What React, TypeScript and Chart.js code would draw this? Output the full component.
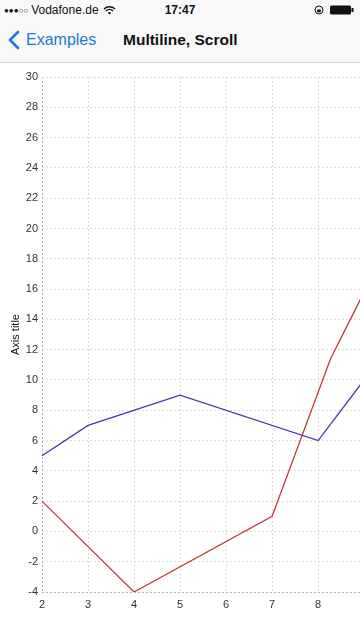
import React, { useEffect, useRef } from "react";
import { Chart, registerables } from "chart.js";

Chart.register(...registerables);

const blueX = [2, 3, 5, 8, 9];
const blueY = [5, 7, 9, 6, 10];
const redX = [2, 4, 7, 8.27, 9];
const redY = [2, -4, 1, 11.4, 15.8];
const xTicks = [2, 3, 4, 5, 6, 7, 8];
const yMin = -4;
const yMax = 30;
const yStep = 2;
const xMin = 2;
const xMax = 8.91;
const yTitle = "Axis title";

const FONT = "'Liberation Sans', Arial, sans-serif";

function toPoints(xs: number[], ys: number[]) {
  return xs.map((x, i) => ({ x, y: ys[i] }));
}

export default function App() {
  const ref = useRef<HTMLCanvasElement | null>(null);

  useEffect(() => {
    document.body.style.margin = "0";
    const canvas = ref.current;
    if (!canvas) return;
    const chart = new Chart(canvas, {
      type: "line",
      data: {
        datasets: [
          {
            data: toPoints(blueX, blueY),
            borderColor: "#3b3bab",
            borderWidth: 1.3,
            pointRadius: 0,
            tension: 0,
            fill: false,
          },
          {
            data: toPoints(redX, redY),
            borderColor: "#c23b3b",
            borderWidth: 1.3,
            pointRadius: 0,
            tension: 0,
            fill: false,
          },
        ],
      },
      options: {
        animation: false,
        responsive: false,
        maintainAspectRatio: false,
        layout: { padding: { top: 14, right: 0, bottom: 0, left: 0 } },
        plugins: { legend: { display: false }, tooltip: { enabled: false } },
        scales: {
          x: {
            type: "linear",
            min: xMin,
            max: xMax,
            afterBuildTicks: (scale: any) => {
              scale.ticks = xTicks.map((v) => ({ value: v }));
            },
            afterFit: (scale: any) => {
              scale.height = 48;
            },
            grid: {
              drawTicks: false,
              color: (ctx: any) => (ctx.tick && ctx.tick.value === xMin ? "#b0b0b0" : "#dcdcdc"),
              lineWidth: 1,
            },
            border: { display: false, dash: [2, 2] },
            ticks: {
              padding: 6,
              color: "#333",
              font: { family: FONT, size: 11 },
              maxRotation: 0,
              autoSkip: false,
              callback: (v: any) => String(v),
            },
          },
          y: {
            type: "linear",
            min: yMin,
            max: yMax,
            afterFit: (scale: any) => {
              scale.width = 42;
            },
            grid: {
              drawTicks: false,
              color: (ctx: any) => (ctx.tick && ctx.tick.value === yMin ? "#b0b0b0" : "#dcdcdc"),
              lineWidth: 1,
            },
            border: { display: false, dash: [2, 2] },
            ticks: {
              stepSize: yStep,
              padding: 4,
              color: "#333",
              font: { family: FONT, size: 11 },
            },
            title: {
              display: true,
              text: yTitle,
              color: "#111",
              font: { family: FONT, size: 11 },
              padding: { top: 9, bottom: 0 },
            },
          },
        },
      },
    } as any);
    return () => chart.destroy();
  }, []);

  return (
    <div style={{ width: 360, height: 640, overflow: "hidden", background: "#fff", fontFamily: FONT }}>
      <div style={{ height: 62, background: "#f8f8f8", borderBottom: "1px solid #d9d9d9", position: "relative" }}>
        <div style={{ position: "absolute", left: 4, top: 3, fontSize: 12, color: "#111", display: "flex", alignItems: "center" }}>
          <span style={{ fontSize: 8, letterSpacing: 0 }}>●●●○○</span>
          <span style={{ marginLeft: 3 }}>Vodafone.de</span>
          <svg width="13" height="10" viewBox="0 0 13 10" style={{ marginLeft: 4 }}>
            <path d="M1 4 A8 8 0 0 1 12 4" stroke="#111" strokeWidth="1.4" fill="none" />
            <path d="M3 6 A5 5 0 0 1 10 6" stroke="#111" strokeWidth="1.4" fill="none" />
            <path d="M6.5 9.5 L4.8 7.8 A2.5 2.5 0 0 1 8.2 7.8 Z" fill="#111" />
          </svg>
        </div>
        <div style={{ position: "absolute", left: 0, width: 360, top: 3, textAlign: "center", fontSize: 12, fontWeight: 600, color: "#111" }}>
          17:47
        </div>
        <div style={{ position: "absolute", right: 6, top: 5, display: "flex", alignItems: "center" }}>
          <svg width="10" height="10" viewBox="0 0 10 10" style={{ marginRight: 6 }}>
            <circle cx="5" cy="5" r="4" stroke="#111" strokeWidth="1" fill="none" />
            <rect x="3.2" y="4.5" width="3.6" height="2.8" fill="#111" />
          </svg>
          <svg width="24" height="10" viewBox="0 0 24 10">
            <rect x="0" y="0.5" width="21" height="9" rx="1.5" fill="#111" />
            <rect x="21.5" y="3" width="2" height="4" fill="#111" />
          </svg>
        </div>
        <div style={{ position: "absolute", left: 8, top: 30, display: "flex", alignItems: "center", color: "#1b7ae0" }}>
          <svg width="12" height="20" viewBox="0 0 12 20">
            <path d="M10 2 L2 10 L10 18" stroke="#1b7ae0" strokeWidth="2.6" fill="none" strokeLinecap="round" strokeLinejoin="round" />
          </svg>
          <span style={{ fontSize: 16, marginLeft: 6 }}>Examples</span>
        </div>
        <div style={{ position: "absolute", left: 123, top: 31, fontSize: 15.5, fontWeight: "bold", color: "#111" }}>
          Multiline, Scroll
        </div>
      </div>
      <canvas ref={ref} width={360} height={577} style={{ display: "block", width: 360, height: 577 }} />
    </div>
  );
}
